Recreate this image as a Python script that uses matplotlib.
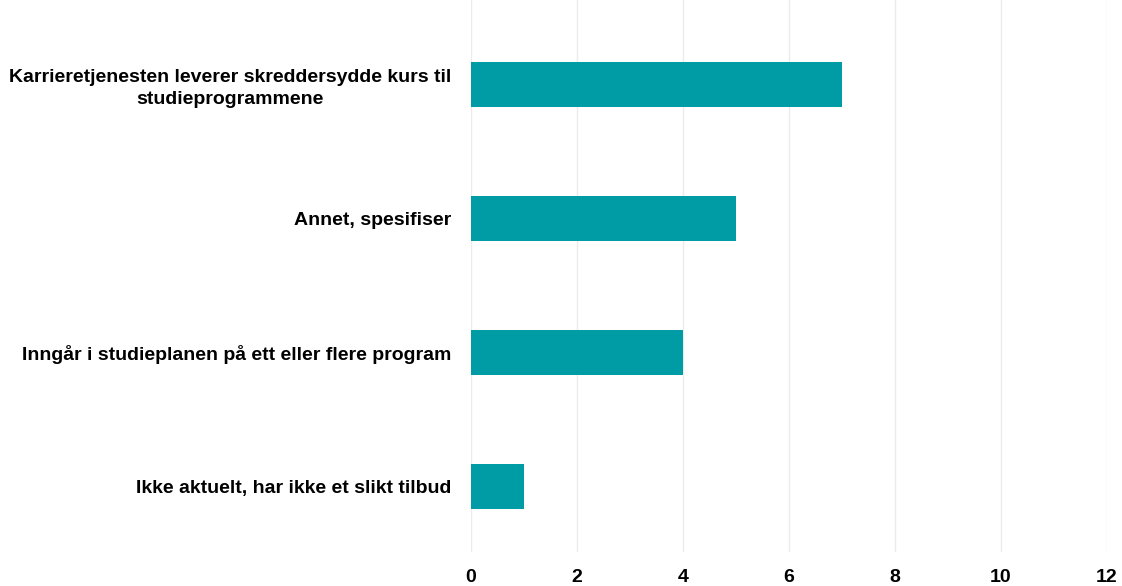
import matplotlib
matplotlib.use("Agg")
import matplotlib.pyplot as plt

# survey answers, bottom to top
categories = [
    "Ikke aktuelt, har ikke et slikt tilbud",
    "Inngår i studieplanen på ett eller flere program",
    "Annet, spesifiser",
    "Karrieretjenesten leverer skreddersydde kurs til\nstudieprogrammene",
]
counts = [1, 4, 5, 7]
xticks = [0, 2, 4, 6, 8, 10, 12]

plt.rcParams["font.family"] = ["Liberation Sans", "DejaVu Sans"]

fig = plt.figure(figsize=(11.22, 5.86), dpi=100)
ax = fig.add_axes([471 / 1122, 34 / 586, 636 / 1122, 552 / 586])

ypos = list(range(len(categories)))
ax.barh(ypos, counts, height=0.336, color="#009CA6", zorder=3)

ax.set_xlim(0, 12)
ax.set_ylim(-0.49, 3.63)
ax.set_xticks(xticks)
ax.set_xticklabels([str(t) for t in xticks], fontsize=14, fontweight="bold")
ax.set_yticks(ypos)
ax.set_yticklabels(categories, fontsize=14, fontweight="bold",
                   multialignment="center", linespacing=1.35)

ax.grid(axis="x", color="#ebebeb", lw=1, zorder=0)
ax.tick_params(axis="x", length=0, pad=12)
ax.tick_params(axis="y", length=0, pad=14)
for sp in ax.spines.values():
    sp.set_visible(False)

fig.savefig("out.png", dpi=100, facecolor="white")
